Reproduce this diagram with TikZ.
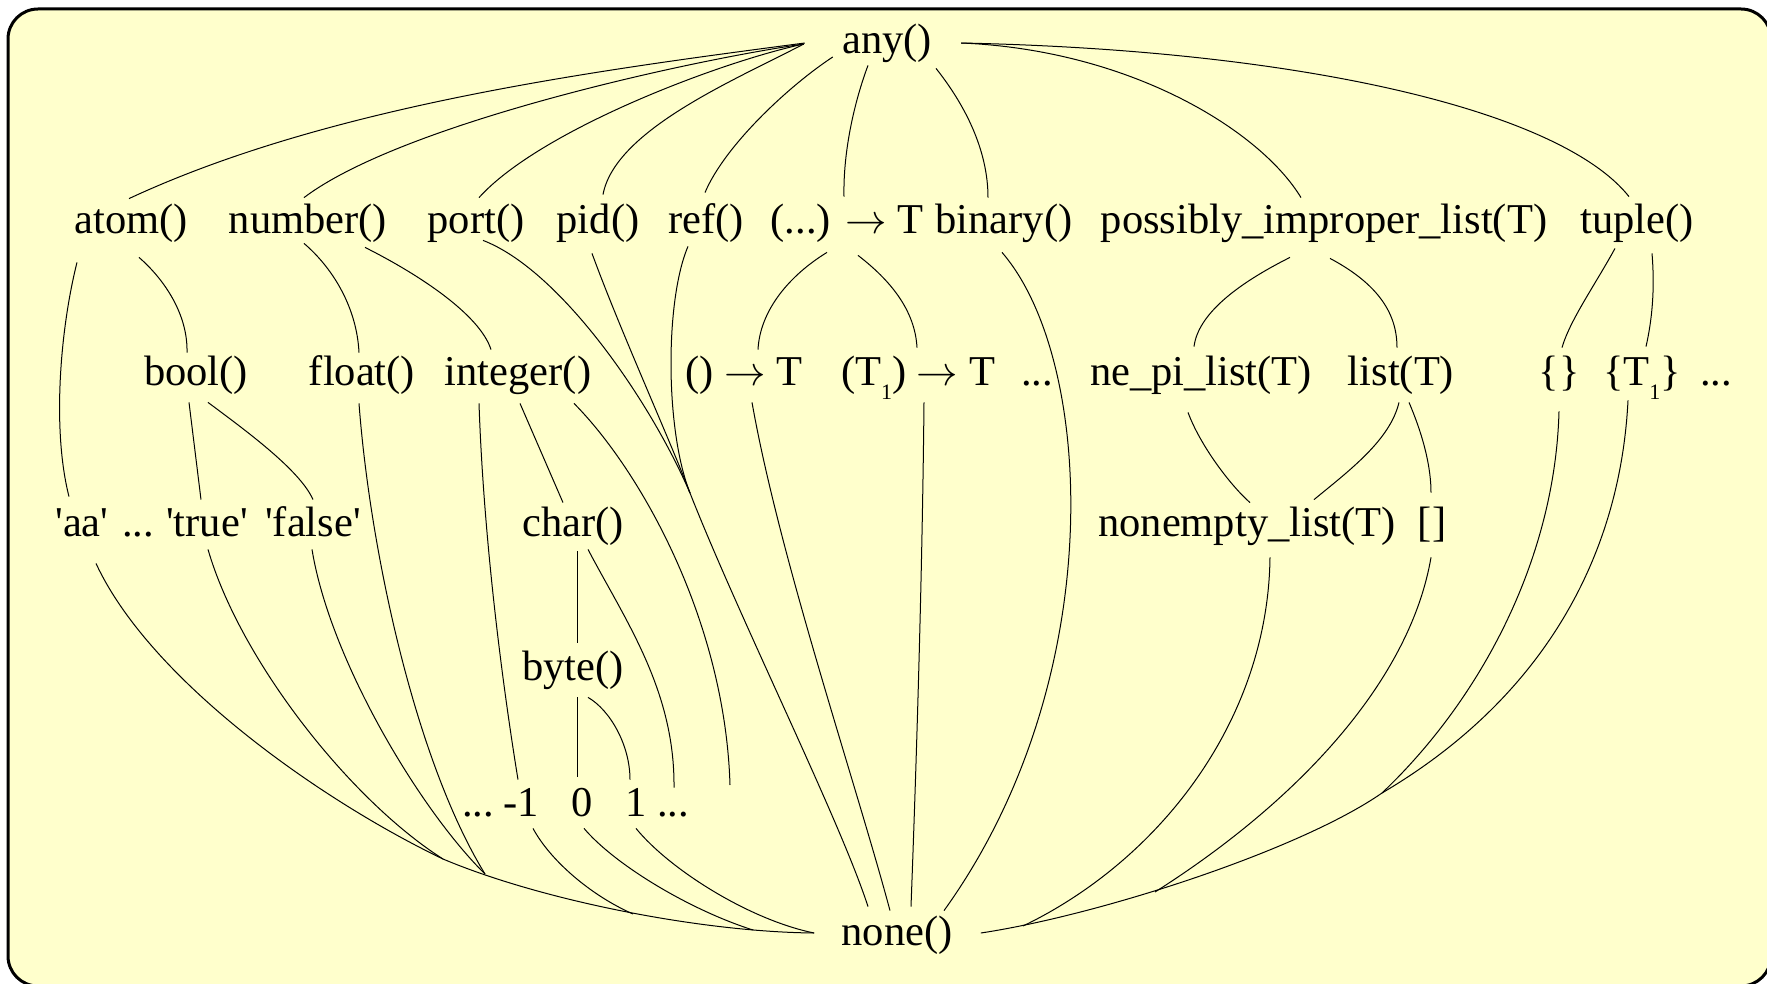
\documentclass[tikz,border=0pt]{standalone}
\usepackage{fontspec}
\setmainfont{Liberation Serif}
\usepackage{tikz}
\usetikzlibrary{calc}
\definecolor{bgyellow}{HTML}{FFFFCC}
\newcommand{\sq}[1]{\textquotesingle#1\textquotesingle}
\newcommand{\subone}{\raisebox{-7pt}{\fontsize{11}{11}\selectfont 1}}

\begin{document}
\begin{tikzpicture}[x=0.5pt, y=-0.5pt,
    ty/.style={anchor=base, inner sep=0pt, text height=17.5pt, text depth=7.5pt,
               font=\fontsize{21.25}{25}\selectfont},
    ln/.style={line width=0.5pt}]

\useasboundingbox (0,0) rectangle (1767,984);
\draw[line width=1.5pt, fill=bgyellow, rounded corners=15pt] (8,9) rectangle (1771,986);

% top and bottom
\node[ty] (any) at (887,54) {any()};
\node[ty] (none) at (897,945) {none()};

% first level
\node[ty] (atom) at (131,234) {atom()};
\node[ty] (number) at (308,234) {number()};
\node[ty] (port) at (476,234) {port()};
\node[ty] (pid) at (598,234) {pid()};
\node[ty] (ref) at (706,234) {ref()};
\node[ty] (fun) at (847,234) {(...) $\rightarrow$ T};
\node[ty] (binary) at (1004,234) {binary()};
\node[ty] (pil) at (1324,234) {possibly\_improper\_list(T)};
\node[ty] (tuple) at (1637,234) {tuple()};

% second level
\node[ty] (bool) at (196,385) {bool()};
\node[ty] (float) at (362,385) {float()};
\node[ty] (integer) at (518,385) {integer()};
\node[ty] (fun0) at (744,385) {() $\rightarrow$ T};
\node[ty] (fun1) at (918,385) {(T\subone) $\rightarrow$ T};
\node[ty] (fundots) at (1037,385) {...};
\node[ty] (nepil) at (1201,385) {ne\_pi\_list(T)};
\node[ty] (list) at (1401,385) {list(T)};
\node[ty] (tup0) at (1559,385) {\{\}};
\node[ty] (tup1) at (1642,385) {\{T\subone\}};
\node[ty] (tupdots) at (1716,385) {...};

% third level
\node[ty] (aa) at (82,536) {\sq{aa}};
\node[ty] (atomdots) at (138,536) {...};
\node[ty] (true) at (207,536) {\sq{true}};
\node[ty] (false) at (313,536) {\sq{false}};
\node[ty] (char) at (573,536) {char()};
\node[ty] (nelist) at (1247,536) {nonempty\_list(T)};
\node[ty] (nil) at (1432,536) {[]};
\node[ty] (byte) at (573,680) {byte()};

% integers
\node[ty] (negdots) at (478,816) {...};
\node[ty] (m1) at (521,816) {-1};
\node[ty] (zero) at (582,816) {0};
\node[ty] (one) at (636,816) {1};
\node[ty] (posdots) at (673,816) {...};

% merge points
\coordinate (mP) at (690,493);
\coordinate (intend) at (730,785);
\coordinate (mL1) at (443,859);
\coordinate (mL2) at (485,874);
\coordinate (mL3) at (633,914);
\coordinate (mL4) at (753,930);
\coordinate (mR1) at (1023,926);
\coordinate (mR2) at (1155,892);
\coordinate (mR3) at (1382,793);

% any() down
\draw[ln] ([shift={(-37,-1)}]any.west) .. controls (600,70) and (330,105) .. ([shift={(-2,0)}]atom.north);
\draw[ln] ([shift={(-38,0)}]any.west) .. controls (680,62) and (400,125) .. ([shift={(-4,-1)}]number.north);
\draw[ln] ([shift={(-38,0)}]any.west) .. controls (720,62) and (540,130) .. ([shift={(3,-1)}]port.north);
\draw[ln] ([shift={(-38,0)}]any.west) .. controls (735,80) and (615,130) .. ([shift={(5,-4)}]pid.north);
\draw[ln] ([shift={(-9,13)}]any.west) .. controls (790,85) and (725,145) .. ([shift={(-1,-6)}]ref.north);
\draw[ln] ([shift={(-19,-4)}]any.south) .. controls (855,100) and (843,150) .. ([shift={(-3,-2)}]fun.north);
\draw[ln] ([shift={(49,-1)}]any.south) .. controls (965,105) and (988,150) .. ([shift={(-16,-1)}]binary.north);
\draw[ln] ([shift={(29,-1)}]any.east) .. controls (1130,50) and (1260,130) .. ([shift={(-23,-1)}]pil.north);
\draw[ln] ([shift={(29,-1)}]any.east) .. controls (1300,50) and (1560,110) .. ([shift={(-8,-2)}]tuple.north);

% first to second level
\draw[ln] ([shift={(-54,13)}]atom.south) .. controls (60,330) and (52,430) .. ([shift={(-13,-4)}]aa.north);
\draw[ln] ([shift={(8,8)}]atom.south) .. controls (165,280) and (188,315) .. ([shift={(-9,3)}]bool.north);
\draw[ln] ([shift={(-4,-6)}]number.south) .. controls (335,270) and (357,310) .. ([shift={(-3,3)}]float.north);
\draw[ln] ([shift={(57,-2)}]number.south) .. controls (420,275) and (480,315) .. ([shift={(-27,0)}]integer.north);
\draw[ln] ([shift={(-20,3)}]fun.south) .. controls (790,275) and (760,310) .. ([shift={(14,0)}]fun0.north);
\draw[ln] ([shift={(11,6)}]fun.south) .. controls (890,280) and (915,310) .. ([shift={(-1,-2)}]fun1.north);
\draw[ln] ([shift={(-34,8)}]pil.south) .. controls (1235,285) and (1198,315) .. ([shift={(-7,-3)}]nepil.north);
\draw[ln] ([shift={(6,9)}]pil.south) .. controls (1380,285) and (1397,315) .. ([shift={(-4,-2)}]list.north);
\draw[ln] ([shift={(-22,-1)}]tuple.south) .. controls (1595,285) and (1570,320) .. ([shift={(3,-2)}]tup0.north);
\draw[ln] ([shift={(15,4)}]tuple.south) .. controls (1655,290) and (1652,320) .. ([shift={(4,-3)}]tup1.north);

% port, pid, ref
\draw[ln] ([shift={(7,-9)}]port.south) .. controls (560,270) and (650,400) .. (mP);
\draw[ln] ([shift={(-6,4)}]pid.south) .. controls (620,330) and (670,440) .. (mP);
\draw[ln] ([shift={(-18,-3)}]ref.south) .. controls (665,300) and (665,430) .. (mP);
\draw[ln] (mP) .. controls (740,620) and (840,820) .. ([shift={(-29,-3)}]none.north);

% functions and binaries
\draw[ln] ([shift={(-2,3)}]binary.south) .. controls (1095,360) and (1110,680) .. ([shift={(47,1)}]none.north);
\draw[ln] ([shift={(8,2)}]fun0.south) .. controls (780,560) and (855,780) .. ([shift={(-7,1)}]none.north);
\draw[ln] ([shift={(6,2)}]fun1.south) .. controls (922,600) and (915,800) .. ([shift={(14,-3)}]none.north);

% atoms, numbers
\draw[ln] ([shift={(-7,2)}]bool.south) -- ([shift={(-6,-1)}]true.north);
\draw[ln] ([shift={(12,2)}]bool.south) .. controls (245,430) and (300,470) .. ([shift={(0,-1)}]false.north);
\draw[ln] ([shift={(-39,3)}]integer.south) .. controls (484,550) and (505,700) .. ([shift={(-3,-1)}]m1.north);
\draw[ln] ([shift={(2,3)}]integer.south) -- ([shift={(-10,2)}]char.north);
\draw[ln] ([shift={(56,3)}]integer.south) .. controls (640,470) and (725,620) .. (intend);
\draw[ln] ([shift={(4,0)}]char.south) -- ([shift={(4,-2)}]byte.north);
\draw[ln] ([shift={(15,-2)}]char.south) .. controls (625,620) and (675,690) .. ([shift={(1,7)}]posdots.north);
\draw[ln] ([shift={(4,2)}]byte.south) -- ([shift={(-5,-4)}]zero.north);
\draw[ln] ([shift={(15,2)}]byte.south) .. controls (610,710) and (630,745) .. ([shift={(-6,-1)}]one.north);

% down to none() on the left
\draw[ln] ([shift={(14,12)}]aa.south) .. controls (150,680) and (320,800) .. (mL1);
\draw[ln] ([shift={(1,-2)}]true.south) .. controls (240,660) and (350,800) .. (mL1);
\draw[ln] ([shift={(-1,-2)}]false.south) .. controls (330,660) and (420,810) .. (mL2);
\draw[ln] ([shift={(-3,3)}]float.south) .. controls (370,550) and (415,760) .. (mL2);
\draw[ln] ([shift={(12,-3)}]m1.south) .. controls (550,860) and (590,895) .. (mL3);
\draw[ln] ([shift={(2,-3)}]zero.south) .. controls (615,865) and (690,910) .. (mL4);
\draw[ln] ([shift={(0,-3)}]one.south) .. controls (670,870) and (750,920) .. ([shift={(-27,-2)}]none.west);
\draw[ln] (mL1) .. controls (540,900) and (700,932) .. ([shift={(-27,-2)}]none.west);

% lists and tuples
\draw[ln] ([shift={(-13,12)}]nepil.south) .. controls (1200,445) and (1230,485) .. ([shift={(3,2)}]nelist.north);
\draw[ln] ([shift={(-2,2)}]list.south) .. controls (1390,440) and (1350,470) .. ([shift={(67,-1)}]nelist.north);
\draw[ln] ([shift={(8,2)}]list.south) .. controls (1425,440) and (1431,470) .. ([shift={(-1,-8)}]nil.north);

% down to none() on the right
\draw[ln] ([shift={(23,6)}]nelist.south) .. controls (1268,720) and (1160,860) .. (mR1);
\draw[ln] ([shift={(-1,6)}]nil.south) .. controls (1410,680) and (1300,800) .. (mR2);
\draw[ln] ([shift={(0,11)}]tup0.south) .. controls (1555,560) and (1480,700) .. (mR3);
\draw[ln] ([shift={(-14,0)}]tup1.south) .. controls (1620,560) and (1540,700) .. (mR3);
\draw[ln] (mR3) .. controls (1300,850) and (1100,915) .. ([shift={(28,-2)}]none.east);
\end{tikzpicture}
\end{document}
